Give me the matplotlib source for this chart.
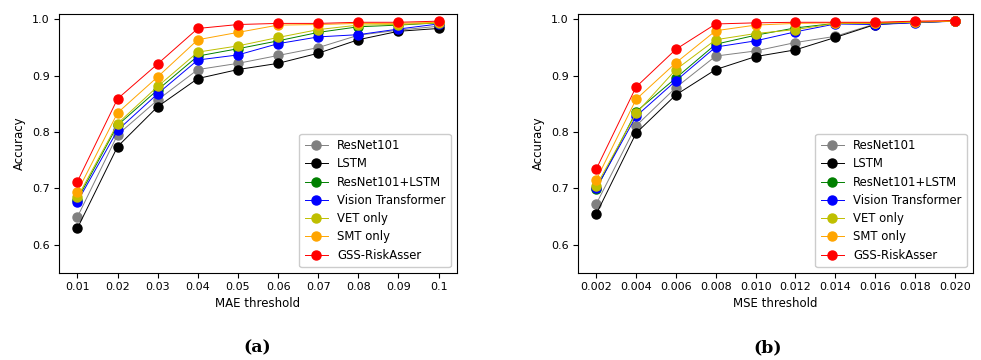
import matplotlib.pyplot as plt

# thresholds
mae_thr = [0.01, 0.02, 0.03, 0.04, 0.05, 0.06, 0.07, 0.08, 0.09, 0.1]
mae_labels = ['0.01', '0.02', '0.03', '0.04', '0.05', '0.06', '0.07', '0.08', '0.09', '0.1']
mse_thr = [0.002, 0.004, 0.006, 0.008, 0.010, 0.012, 0.014, 0.016, 0.018, 0.020]
mse_labels = ['0.002', '0.004', '0.006', '0.008', '0.010', '0.012', '0.014', '0.016', '0.018', '0.020']

models = ['ResNet101', 'LSTM', 'ResNet101+LSTM', 'Vision Transformer', 'VET only', 'SMT only', 'GSS-RiskAsser']
colors = ['gray', 'black', 'green', 'blue', 'y', 'orange', 'red']

# accuracy vs MAE threshold
mae_resnet = [0.649, 0.795, 0.857, 0.911, 0.922, 0.936, 0.950, 0.972, 0.981, 0.988]
mae_lstm = [0.629, 0.774, 0.845, 0.895, 0.911, 0.922, 0.940, 0.964, 0.979, 0.984]
mae_reslstm = [0.680, 0.812, 0.875, 0.935, 0.948, 0.962, 0.977, 0.987, 0.990, 0.994]
mae_vit = [0.676, 0.803, 0.868, 0.928, 0.937, 0.957, 0.969, 0.973, 0.983, 0.992]
mae_vet = [0.684, 0.815, 0.881, 0.942, 0.953, 0.968, 0.982, 0.990, 0.991, 0.994]
mae_smt = [0.694, 0.834, 0.898, 0.964, 0.977, 0.990, 0.991, 0.993, 0.993, 0.995]
mae_gss = [0.712, 0.859, 0.921, 0.984, 0.991, 0.993, 0.993, 0.995, 0.995, 0.997]

# accuracy vs MSE threshold
mse_resnet = [0.672, 0.811, 0.879, 0.935, 0.944, 0.959, 0.970, 0.992, 0.995, 0.997]
mse_lstm = [0.654, 0.798, 0.866, 0.911, 0.934, 0.946, 0.968, 0.991, 0.995, 0.997]
mse_reslstm = [0.698, 0.836, 0.896, 0.956, 0.972, 0.985, 0.993, 0.993, 0.995, 0.997]
mse_vit = [0.700, 0.828, 0.891, 0.951, 0.962, 0.978, 0.992, 0.991, 0.994, 0.997]
mse_vet = [0.704, 0.833, 0.911, 0.964, 0.975, 0.982, 0.993, 0.993, 0.995, 0.997]
mse_smt = [0.715, 0.858, 0.923, 0.980, 0.990, 0.993, 0.994, 0.994, 0.996, 0.997]
mse_gss = [0.734, 0.880, 0.947, 0.992, 0.994, 0.995, 0.995, 0.995, 0.997, 0.998]

mae_data = [mae_resnet, mae_lstm, mae_reslstm, mae_vit, mae_vet, mae_smt, mae_gss]
mse_data = [mse_resnet, mse_lstm, mse_reslstm, mse_vit, mse_vet, mse_smt, mse_gss]

plt.rcParams['font.family'] = 'DejaVu Sans'
fig = plt.figure(figsize=(9.81, 3.6), dpi=100)
ax1 = fig.add_axes([0.0605, 0.2425, 0.405, 0.7175])
ax2 = fig.add_axes([0.5895, 0.2425, 0.402, 0.7175])

for ax, thr, labels, data, xlabel in [(ax1, mae_thr, mae_labels, mae_data, 'MAE threshold'),
                                      (ax2, mse_thr, mse_labels, mse_data, 'MSE threshold')]:
    for name, col, vals in zip(models, colors, data):
        ax.plot(thr, vals, color=col, marker='o', markersize=6.5, linewidth=0.7, label=name)
    ax.set_xticks(thr)
    ax.set_xticklabels(labels)
    ax.set_yticks([0.6, 0.7, 0.8, 0.9, 1.0])
    ax.set_ylim(0.55, 1.009)
    ax.tick_params(labelsize=8)
    ax.set_xlabel(xlabel, fontsize=8.5, labelpad=3)
    ax.set_ylabel('Accuracy', fontsize=8.5)
    ax.legend(loc='lower right', fontsize=8.4, handlelength=2.0, labelspacing=0.45,
              borderpad=0.45, framealpha=1)

fig.text(0.262, 0.022, '(a)', fontsize=12.5, fontweight='bold', family='DejaVu Serif', ha='center')
fig.text(0.783, 0.022, '(b)', fontsize=12.5, fontweight='bold', family='DejaVu Serif', ha='center')

fig.savefig('out.png', dpi=100)
